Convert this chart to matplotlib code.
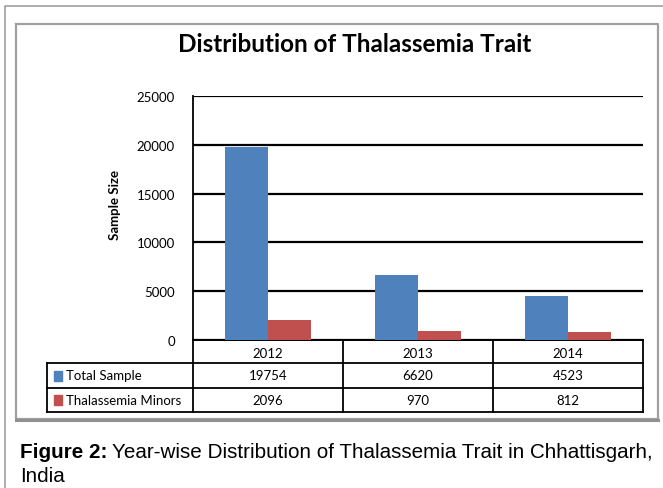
import matplotlib
matplotlib.use("Agg")
import matplotlib.pyplot as plt
import numpy as np

# ---- data ----
years = ["2012", "2013", "2014"]
total_sample = [19754, 6620, 4523]
thal_minors = [2096, 970, 812]
series_names = ["Total Sample", "Thalassemia Minors"]
series_colors = ["#4F81BD", "#C0504D"]
y_ticks = [0, 5000, 10000, 15000, 20000, 25000]

W, H = 663, 489
fig = plt.figure(figsize=(W / 100, H / 100), dpi=100)
fig.patch.set_facecolor("white")

# pixel layout (from top-left)
PL, PR, PT, PB = 193, 643, 97, 341
TBL_L = 47
ROW_Y = [341, 364, 389, 413]

# overlay axes in pixel coords for borders / table / caption
ov = fig.add_axes([0, 0, 1, 1], zorder=0)
ov.set_xlim(0, W)
ov.set_ylim(H, 0)
ov.axis("off")

# ---- bar chart ----
ax = fig.add_axes([PL / W, (H - PB) / H, (PR - PL) / W, (PB - PT) / H], zorder=2)
ax.patch.set_alpha(0)
x = np.arange(len(years))
bw = 2 / 7.0
ax.bar(x - bw / 2, total_sample, bw, color=series_colors[0], zorder=3)
ax.bar(x + bw / 2, thal_minors, bw, color=series_colors[1], zorder=3)
ax.set_xlim(-0.5, len(years) - 0.5)
ax.set_ylim(0, 25000)
ax.set_yticks(y_ticks)
ax.set_yticklabels([str(v) for v in y_ticks], fontsize=9.5, family="Lato")
ax.set_xticks([])
ax.tick_params(axis="y", length=0, pad=13)
ax.yaxis.grid(True, color="black", lw=1.6)
ax.set_axisbelow(True)
for s in ["top", "right"]:
    ax.spines[s].set_visible(False)
ax.spines["left"].set_linewidth(1.3)
ax.spines["bottom"].set_linewidth(1.3)

ov.text(115, 205, "Sample Size", fontsize=9.5, fontweight="bold", family="Lato",
        rotation=90, ha="center", va="center")
ov.text(355, 45, "Distribution of Thalassemia Trait", fontsize=17.5, fontweight="bold",
        family="Lato", ha="center", va="center")

# ---- borders ----
ov.plot([5, 5, W], [H, 7, 7], color="#a0a0a0", lw=1.2)
ov.plot([16, 658, 658, 16, 16], [25, 25, 420, 420, 25], color="#a0a0a0", lw=1.6)
ov.plot([16, 658], [421, 421], color="#909090", lw=2.2)

# ---- data table ----
n = len(years)
cw = (PR - PL) / n
col_x = [PL + i * cw for i in range(n + 1)]
lw = 1.3
ov.plot([PL, PR], [ROW_Y[0], ROW_Y[0]], color="black", lw=lw)
for yy in ROW_Y[1:]:
    ov.plot([TBL_L, PR], [yy, yy], color="black", lw=lw)
for cx in col_x:
    ov.plot([cx, cx], [ROW_Y[0], ROW_Y[-1]], color="black", lw=lw)
ov.plot([TBL_L, TBL_L], [ROW_Y[1], ROW_Y[-1]], color="black", lw=lw)

tfont = dict(fontsize=9.5, family="Lato", va="center")
for i, yr in enumerate(years):
    ov.text(col_x[i] + cw / 2, (ROW_Y[0] + ROW_Y[1]) / 2 + 1, yr, ha="center", **tfont)
rows = [total_sample, thal_minors]
for r, vals in enumerate(rows):
    yc = (ROW_Y[r + 1] + ROW_Y[r + 2]) / 2
    ov.add_patch(plt.Rectangle((54, yc - 5), 8, 10, color=series_colors[r]))
    ov.text(66, yc, series_names[r], ha="left", **tfont)
    for i, v in enumerate(vals):
        ov.text(col_x[i] + cw / 2, yc, str(v), ha="center", **tfont)

# ---- caption ----
cap_font = "Liberation Sans"
fs = 14
t1 = ov.text(20, 453, "Figure 2:", fontsize=fs, fontweight="bold", family=cap_font,
             va="center", ha="left")
t2 = ov.text(0, 453, "Year-wise Distribution of Thalassemia Trait in Chhattisgarh,",
             fontsize=fs, family=cap_font, va="center", ha="left")
t3 = ov.text(20, 476, "India", fontsize=fs, family=cap_font, va="center", ha="left")
# fit caption so line 1 ends near x=658
fig.canvas.draw()
sc = W / fig.bbox.width
total = (t1.get_window_extent().width + t2.get_window_extent().width) * sc + 4
fs2 = fs * 636 / total
for t in (t1, t2, t3):
    t.set_fontsize(fs2)
fig.canvas.draw()
t2.set_x(t1.get_window_extent().x1 * sc + 4)

fig.savefig("out.png", dpi=100)
